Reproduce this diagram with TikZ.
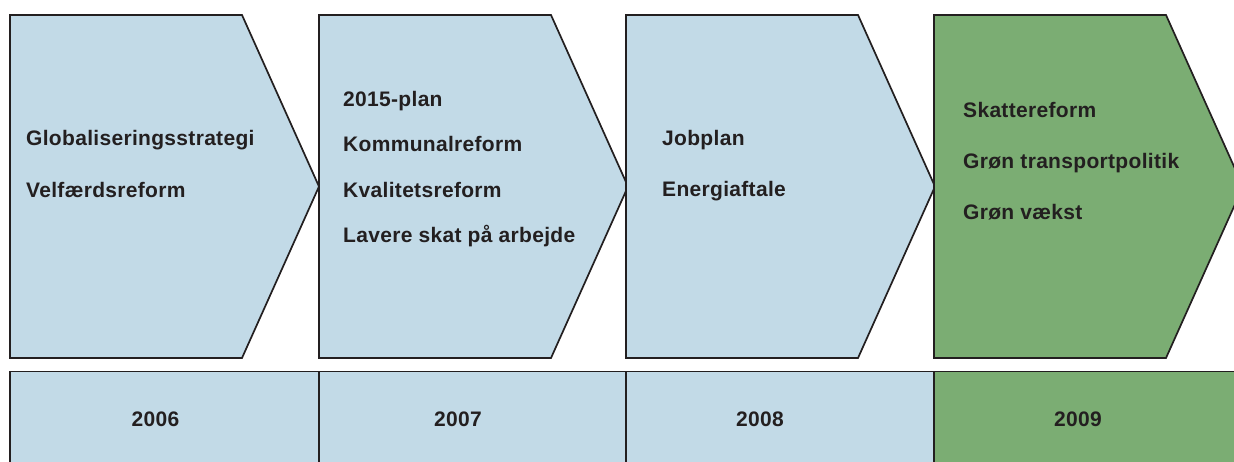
\documentclass[tikz,border=0pt]{standalone}
\usepackage{fontspec}
\setmainfont{Liberation Sans}[LetterSpace=1.5]
\newcommand\XA{10}
\newcommand\XB{319}
\newcommand\XC{626}
\newcommand\XD{934}
\newcommand\W{232}
\newcommand\T{77}
\newcommand\Yt{15}
\newcommand\Yb{358}
\newcommand\Ym{186.5}
\newcommand\Yy{371.5}
\definecolor{paleblue}{RGB}{194,218,231}
\definecolor{leafgreen}{RGB}{123,173,115}
\definecolor{inkgray}{RGB}{35,31,32}

\begin{document}
\begin{tikzpicture}
  [x=1pt, y=-1pt,
   chevron/.style = {
     draw=inkgray, line width=1.7pt, line join=miter
   },
   yearbox/.style = {
     draw=inkgray, line width=1.7pt
   },
   item/.style = {
     anchor=base west, inner sep=0pt, text=inkgray,
     font=\bfseries\fontsize{21}{24}\selectfont
   },
   year/.style = {
     anchor=base, inner sep=0pt, text=inkgray,
     font=\bfseries\fontsize{21}{24}\selectfont
   }]

  \useasboundingbox (0,0) rectangle (1234,461);
  \clip (0,0) rectangle (1234,461);

	% Chevrons.
	\draw[chevron, fill=paleblue] (\XA,\Yt) -- (\XA+\W,\Yt) -- (\XA+\W+\T,\Ym) -- (\XA+\W,\Yb) -- (\XA,\Yb) -- cycle;
	\draw[chevron, fill=paleblue] (\XB,\Yt) -- (\XB+\W,\Yt) -- (\XB+\W+\T,\Ym) -- (\XB+\W,\Yb) -- (\XB,\Yb) -- cycle;
	\draw[chevron, fill=paleblue] (\XC,\Yt) -- (\XC+\W,\Yt) -- (\XC+\W+\T,\Ym) -- (\XC+\W,\Yb) -- (\XC,\Yb) -- cycle;
	\draw[chevron, fill=leafgreen] (\XD,\Yt) -- (\XD+\W,\Yt) -- (\XD+\W+\T,\Ym) -- (\XD+\W,\Yb) -- (\XD,\Yb) -- cycle;

	% 2006
	\node[item] at (26, 145) (glob) {Globaliseringsstrategi};
	\node[item] at (26, 197) (velf) {Velfærdsreform};
	% 2007
	\node[item] at (343, 106) (plan) {2015-plan};
	\node[item] at (343, 151) (komm) {Kommunalreform};
	\node[item] at (343, 197) (kval) {Kvalitetsreform};
	\node[item] at (343, 242) (skat) {Lavere skat på arbejde};
	% 2008
	\node[item] at (662, 145) (job) {Jobplan};
	\node[item] at (662, 196) (energi) {Energiaftale};
	% 2009
	\node[item] at (963, 117) (skrf) {Skattereform};
	\node[item] at (963, 168) (trans) {Grøn transportpolitik};
	\node[item] at (963, 219) (vaekst) {Grøn vækst};

	% Year bar.
	\draw[yearbox, fill=paleblue] (\XA,\Yy) rectangle (\XB,480);
	\draw[yearbox, fill=paleblue] (\XB,\Yy) rectangle (\XC,480);
	\draw[yearbox, fill=paleblue] (\XC,\Yy) rectangle (\XD,480);
	\draw[yearbox, fill=leafgreen] (\XD,\Yy) rectangle (1260,480);

	\node[year] at (155.5, 426) (y6) {2006};
	\node[year] at (458, 426) (y7) {2007};
	\node[year] at (760, 426) (y8) {2008};
	\node[year] at (1078, 426) (y9) {2009};

\end{tikzpicture}
\end{document}
